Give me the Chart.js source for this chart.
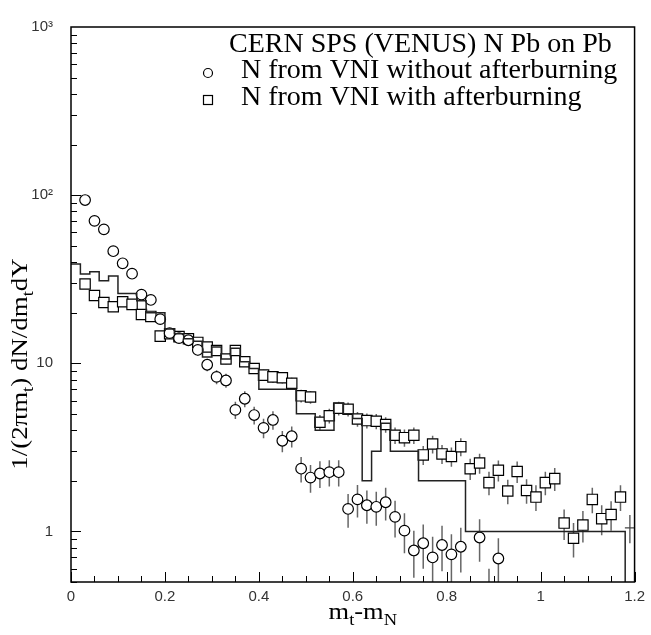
<!DOCTYPE html>
<html>
<head>
<meta charset="utf-8">
<script src="https://cdn.jsdelivr.net/npm/chart.js@4.4.0/dist/chart.umd.min.js"></script>
<style>
  html, body { margin: 0; padding: 0; background: #fff; }
  #wrap { width: 651px; height: 635px; }
</style>
</head>
<body>
<div id="wrap"><canvas id="mt-chart" width="651" height="635"></canvas></div>
<script>
// bin centres (m_t - m_N) of the two VNI samples
const binCentres = [0.03,0.05,0.07,0.09,0.11,0.13,0.15,0.17,0.19,0.21,0.23,0.25,0.27,0.29,0.31,0.33,0.35,0.37,0.39,0.41,
  0.43,0.45,0.47,0.49,0.51,0.53,0.55,0.57,0.59,0.61,0.63,0.65,0.67,0.69,0.71,0.73,0.75,0.77,0.79,0.81,
  0.83,0.85,0.87,0.89,0.91,0.93,0.95,0.97,0.99,1.01,1.03,1.05,1.07,1.09,1.11,1.13,1.15,1.17];

// N from VNI without afterburning (circles); 0.89 sits below the frame, only its bar shows
const noAfter = [93.5,70.3,62.6,46.4,39.3,34.1,25.6,23.8,18.3,15.1,14.1,13.7,12.0,9.8,8.3,7.9,5.28,6.15,4.92,4.13,
  4.6,3.46,3.68,2.36,2.09,2.21,2.25,2.25,1.36,1.55,1.43,1.40,1.49,1.22,1.01,0.77,0.85,0.70,0.83,0.73,
  0.81,null,0.92,0.35,0.69];
const noAfterErr = [2.6,2.3,2.1,1.8,1.7,1.6,1.4,1.3,1.2,1.0,1.0,1.0,0.9,0.85,0.8,0.75,0.62,0.67,0.6,0.55,
  0.58,0.5,0.52,0.41,0.39,0.4,0.4,0.4,0.31,0.34,0.32,0.32,0.33,0.3,0.27,0.24,0.25,0.23,0.25,0.23,
  0.24,null,0.26,0.25,0.22];

// N from VNI with afterburning (squares)
const withAfter = [29.6,25.3,23.0,21.7,23.2,22.4,19.5,19.0,14.5,15.0,14.4,14.0,13.3,12.5,11.9,10.6,11.9,10.2,9.3,8.5,
  8.3,8.2,7.6,6.4,6.3,4.46,4.87,5.4,5.33,4.66,4.56,4.52,4.32,3.73,3.61,3.73,2.85,3.31,2.89,2.79,
  3.19,2.36,2.55,1.95,2.31,1.74,2.27,1.75,1.60,1.95,2.06,1.12,0.91,1.09,1.55,1.19,1.26,1.60];
const withAfterErr = [1.2,1.1,1.05,1.0,1.05,1.04,0.97,0.96,0.84,0.85,0.83,0.82,0.8,0.78,0.76,0.72,0.76,0.7,0.67,0.64,
  0.63,0.63,0.61,0.56,0.55,0.46,0.49,0.51,0.51,0.47,0.47,0.47,0.46,0.42,0.42,0.42,0.37,0.4,0.37,0.37,
  0.39,0.34,0.35,0.31,0.33,0.29,0.33,0.29,0.28,0.31,0.32,0.23,0.21,0.23,0.27,0.24,0.25,0.28];

// VENUS histogram: bin edges and contents
const histEdges = [0,0.02,0.04,0.06,0.08,0.10,0.12,0.14,0.16,0.18,0.20,0.22,0.24,0.26,0.28,0.30,0.32,0.34,0.36,0.38,
  0.40,0.42,0.44,0.46,0.48,0.50,0.52,0.54,0.56,0.58,0.60,0.62,0.64,0.66,0.68,0.74,0.84,1.18];
const histValues = [39,34,35,31,33,26,26,23.5,20,20,16,15,14,13.5,10.9,12.5,10.6,12.3,10.2,9.3,
  7.0,7.0,7.0,7.0,5.0,5.0,4.0,4.0,5.8,5.0,4.7,2.0,3.0,4.4,3.0,2.0,1.0];
const histTail = [{ x: 1.19, y: 1.05 }];
const histTailErr = [0.2];

const xTicks = [0, 0.2, 0.4, 0.6, 0.8, 1, 1.2];
const yTicks = [1, 10, 100, 1000];
const yTickText = { 1: '1', 10: '10', 100: '10\u00B2', 1000: '10\u00B3' };
const yMin = 0.5, yMax = 1000;

const histPoints = histValues.map((v, i) => ({ x: histEdges[i], y: v }));
histPoints.push({ x: histEdges[histEdges.length - 1], y: histValues[histValues.length - 1] });
histPoints.push({ x: histEdges[histEdges.length - 1], y: yMin * 0.5 });

const serif = "'Liberation Serif', 'Times New Roman', serif";
const sans = "'Liberation Sans', Arial, sans-serif";

// text with subscripts, stretched along the reading direction
function richText(ctx, parts, size, stretch) {
  ctx.textAlign = 'left';
  let w = 0;
  parts.forEach(p => {
    ctx.font = (p.sub ? size * 0.7 : size) + 'px ' + serif;
    p.w = ctx.measureText(p.t).width;
    w += p.w;
  });
  ctx.save();
  ctx.scale(stretch, 1);
  let x = -w / 2;
  parts.forEach(p => {
    ctx.font = (p.sub ? size * 0.7 : size) + 'px ' + serif;
    ctx.fillText(p.t, x, p.sub ? size * 0.25 : 0);
    x += p.w;
  });
  ctx.restore();
}

const paperPlugin = {
  id: 'paper',
  beforeDatasetsDraw(chart) {
    const ctx = chart.ctx, xs = chart.scales.x, ys = chart.scales.y, a = chart.chartArea;
    ctx.save();
    ctx.beginPath();
    ctx.rect(a.left, a.top, a.right - a.left, a.bottom - a.top);
    ctx.clip();
    ctx.strokeStyle = '#666';
    ctx.lineWidth = 1.5;
    chart.data.datasets.forEach(ds => {
      if (!ds.errs) return;
      ds.data.forEach((p, i) => {
        const e = ds.errs[i];
        if (p.y == null || e == null) return;
        const px = xs.getPixelForValue(p.x);
        ctx.beginPath();
        ctx.moveTo(px, ys.getPixelForValue(p.y + e));
        ctx.lineTo(px, ys.getPixelForValue(Math.max(p.y - e, 1e-3)));
        ctx.stroke();
      });
    });
    ctx.restore();
  },
  afterDraw(chart) {
    const ctx = chart.ctx, xs = chart.scales.x, ys = chart.scales.y, a = chart.chartArea;
    ctx.save();
    ctx.strokeStyle = '#000';
    ctx.lineWidth = 1.5;
    ctx.strokeRect(a.left, a.top, a.right - a.left, a.bottom - a.top);

    // inward ticks on the bottom axis
    ctx.lineWidth = 1;
    for (let k = 0; k <= 24; k++) {
      const v = k * 0.05;
      const px = Math.round(xs.getPixelForValue(v)) + 0.5;
      const len = (k % 4 === 0) ? 10 : 6;
      ctx.beginPath();
      ctx.moveTo(px, a.bottom);
      ctx.lineTo(px, a.bottom - len);
      ctx.stroke();
    }
    // inward ticks on the left axis
    for (let d = -1; d <= 2; d++) {
      for (let m = 1; m <= 9; m++) {
        const v = m * Math.pow(10, d);
        if (v < yMin || v > yMax) continue;
        const py = Math.round(ys.getPixelForValue(v)) + 0.5;
        ctx.beginPath();
        ctx.moveTo(a.left, py);
        ctx.lineTo(a.left + (m === 1 ? 10 : 6), py);
        ctx.stroke();
      }
    }

    // axis titles
    ctx.fillStyle = '#000';
    ctx.textBaseline = 'alphabetic';
    ctx.save();
    ctx.translate((a.left + a.right) / 2 + 10, 619);
    richText(ctx, [{ t: 'm' }, { t: 't', sub: true }, { t: '-m' }, { t: 'N', sub: true }], 23, 1.15);
    ctx.restore();
    ctx.save();
    ctx.translate(27, 364);
    ctx.rotate(-Math.PI / 2);
    richText(ctx, [{ t: '1/(2\u03C0m' }, { t: 't', sub: true }, { t: ') dN/dm' }, { t: 't', sub: true }, { t: 'dY' }], 24, 1.12);
    ctx.restore();

    // legend
    ctx.textAlign = 'left';
    ctx.textBaseline = 'middle';
    ctx.font = '28px ' + serif;
    ctx.fillText('CERN SPS (VENUS) N Pb on Pb', 229, 45);
    ctx.fillText('N from VNI without afterburning', 241, 71);
    ctx.fillText('N from VNI with afterburning', 241, 98);
    ctx.lineWidth = 1.2;
    ctx.beginPath();
    ctx.arc(208, 73, 4.5, 0, Math.PI * 2);
    ctx.stroke();
    ctx.strokeRect(203.5, 95.5, 9, 9);
    ctx.restore();
  }
};

new Chart(document.getElementById('mt-chart'), {
  type: 'scatter',
  data: {
    datasets: [
      {
        label: 'VENUS',
        data: histPoints,
        showLine: true,
        stepped: 'before',
        borderColor: '#222',
        borderWidth: 1.5,
        pointRadius: 0,
        fill: false
      },
      {
        label: 'N from VNI without afterburning',
        data: binCentres.slice(0, noAfter.length).map((x, i) => ({ x: x, y: noAfter[i] })),
        errs: noAfterErr,
        pointStyle: 'circle',
        pointRadius: 5.3,
        borderColor: '#000',
        backgroundColor: '#fff',
        borderWidth: 1.2
      },
      {
        label: 'N from VNI with afterburning',
        data: binCentres.map((x, i) => ({ x: x, y: withAfter[i] })),
        errs: withAfterErr,
        pointStyle: 'rect',
        pointRadius: 7.3,
        borderColor: '#000',
        backgroundColor: '#fff',
        borderWidth: 1.2
      },
      {
        label: 'last bin',
        data: histTail,
        errs: histTailErr,
        pointStyle: 'line',
        pointRadius: 5,
        borderColor: '#444',
        borderWidth: 1.2
      }
    ]
  },
  options: {
    responsive: false,
    animation: false,
    layout: { padding: { left: 0, right: 12, top: 14, bottom: 0 } },
    plugins: {
      legend: { display: false },
      tooltip: { enabled: false }
    },
    scales: {
      x: {
        type: 'linear',
        min: 0,
        max: 1.2,
        afterBuildTicks: s => { s.ticks = xTicks.map(v => ({ value: v })); },
        afterFit: s => { s.height = 53; },
        grid: { display: false, drawTicks: false },
        border: { display: false },
        ticks: {
          padding: 6,
          color: '#333',
          font: { family: sans, size: 15 },
          maxRotation: 0,
          callback: v => String(Math.round(v * 10) / 10)
        }
      },
      y: {
        type: 'logarithmic',
        min: yMin,
        max: yMax,
        afterBuildTicks: s => { s.ticks = yTicks.map(v => ({ value: v })); },
        afterFit: s => { s.width = 71; },
        grid: { display: false, drawTicks: false },
        border: { display: false },
        ticks: {
          padding: 18,
          color: '#333',
          font: { family: sans, size: 15 },
          callback: v => yTickText[v] || ''
        }
      }
    }
  },
  plugins: [paperPlugin]
});
</script>
</body>
</html>
